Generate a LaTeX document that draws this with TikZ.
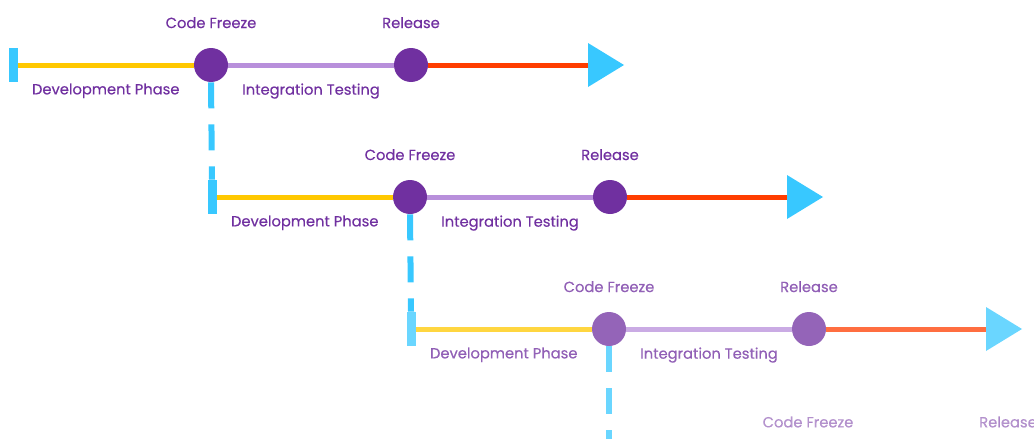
\documentclass[tikz,border=0pt]{standalone}
\usepackage{fontspec}
\setmainfont{Poppins}
\newfontfamily\milestonefont{Poppins}[FakeBold=0.35]
\usetikzlibrary{positioning}

\definecolor{devyellow}{HTML}{FFC800}
\definecolor{testlilac}{HTML}{B88FDB}
\definecolor{shipred}{HTML}{FF3D00}
\definecolor{barcyan}{HTML}{38C8FF}
\definecolor{stonepurple}{HTML}{7030A0}

\begin{document}
\begin{tikzpicture}[x=1pt,y=-1pt,
                    thick,
                    milestone/.style={circle,fill=stonepurple,minimum size=34pt,inner sep=0pt},
                    startbar/.style={rectangle,fill=barcyan,minimum width=9pt,minimum height=34pt,inner sep=0pt},
                    caption/.style={text=stonepurple,font=\milestonefont\fontsize{14.7}{16}\selectfont,inner sep=0pt},
                    phase/.style={line width=5pt},
                    handoff/.style={barcyan,line width=6pt,dash pattern=on 26pt off 16pt}]

  \useasboundingbox (0,0) rectangle (1034,439);
  \clip (0,0) rectangle (1034,439);

  % one row per release cycle, each shifted right and down
  \foreach \i/\op in {1/1,2/1,3/0.75} {
    \pgfmathsetmacro{\ox}{(\i-1)*199}
    \pgfmathsetmacro{\oy}{(\i-1)*132}
    \begin{scope}[shift={(\ox,\oy)},opacity=\op]
      \node[startbar] (start\i) at (13,65) {};
      \node[milestone] (freeze\i) at (211,65) {};
      \node[milestone] (release\i) at (411,65) {};
      \coordinate (tip\i) at (588,65);
      \fill[barcyan] (tip\i) ++(0,-22) -- ++(36,22) -- ++(-36,22) -- cycle;

      \node[caption, above=19pt of freeze\i] (freezelabel\i) {Code Freeze};
      \node[caption, above=19pt of release\i] (releaselabel\i) {Release};

      \draw[phase,devyellow] (start\i.east) -- node[caption,below=16pt] (devlabel\i) {Development Phase} (freeze\i.west);
      \draw[phase,testlilac] (freeze\i.east) -- node[caption,below=16pt] (testlabel\i) {Integration Testing} (release\i.west);
      \draw[phase,shipred] (release\i.east) -- (tip\i);
    \end{scope}
  }

  % next cycle, only its headings reach into view
  \node[caption,opacity=0.5] (freezelabel4) at (808,422) {Code Freeze};
  \node[caption,opacity=0.5] (releaselabel4) at (1008,422) {Release};
  \coordinate (start4) at (609,444);

  % hand-off from one freeze to the next cycle's start
  \foreach \i/\j/\op in {1/2/1,2/3/1,3/4/0.75}
    \draw[handoff,opacity=\op] (freeze\i.south) -- (start\j.north);
\end{tikzpicture}
\end{document}
